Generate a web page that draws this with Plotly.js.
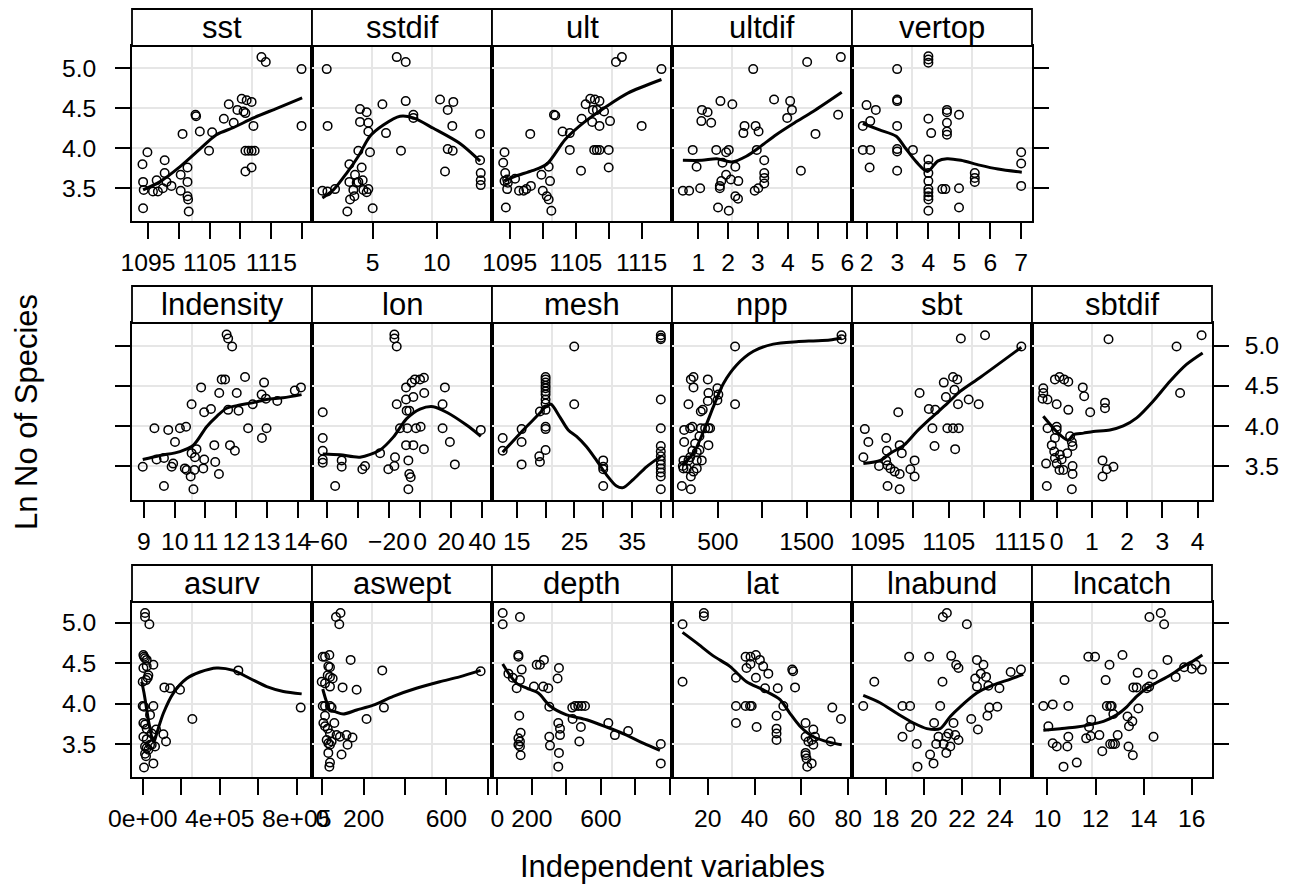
<!DOCTYPE html>
<html><head><meta charset="utf-8">
<script src="https://cdn.plot.ly/plotly-3.0.1.min.js"></script>
<style>html,body{margin:0;padding:0;background:#fff}#chart{width:1293px;height:890px}</style>
</head><body><div id="chart"></div>
<script>
// ---------------- data ----------------
const sst_x=[1094.1,1094.9,1094.2,1094.3,1094.2,1095.8,1096.6,1096.4,1097.4,1097.7,1097.7,1098.0,1098.8,1100.3,1100.3,1100.6,1101.4,1101.4,1101.4,1101.5,1101.6,1102.7,1102.8,1103.4,1104.9,1105.4,1107.3,1108.1,1108.9,1109.5,1110.2,1111.0,1111.8,1110.5,1110.8,1110.8,1111.3,1111.8,1112.3,1110.8,1111.8,1112.1,1113.4,1114.1,1119.9,1119.9];
const sst_y=[3.80,3.95,3.58,3.48,3.25,3.46,3.46,3.60,3.50,3.69,3.85,3.58,3.53,3.67,3.47,4.18,3.76,3.58,3.40,3.36,3.21,4.42,4.40,4.21,3.97,4.20,4.37,4.55,4.32,4.48,4.62,4.60,4.58,4.46,4.44,3.97,3.97,3.97,3.97,3.71,3.76,4.28,5.14,5.08,4.99,4.28];
const sst_fx=[1094.2,1096.9,1100.2,1103.4,1106.1,1108.9,1112.1,1115.9,1120.0];
const sst_fy=[3.48,3.58,3.77,3.99,4.17,4.26,4.38,4.50,4.63];

const sstdif_x=[1.41,1.48,1.07,1.46,2.06,3.02,3.18,3.18,3.23,3.49,3.57,3.62,3.75,3.88,4.01,4.01,4.14,4.22,4.27,4.53,4.66,4.66,4.79,4.53,4.66,3.88,5.0,5.76,6.04,6.88,7.58,7.58,7.21,8.18,8.18,10.26,10.86,11.30,11.22,10.86,11.25,10.65,13.39,13.39,13.44,13.44,13.44];
const sstdif_y=[4.99,4.28,3.47,3.46,3.49,3.21,3.80,3.58,3.36,3.48,3.40,3.67,3.57,3.58,4.49,4.33,3.76,3.60,3.48,4.45,4.32,4.21,3.95,3.45,3.49,3.97,3.25,4.55,4.19,5.14,5.08,4.59,3.97,4.42,4.38,4.61,4.48,4.58,4.28,3.99,3.97,3.71,4.18,3.85,3.69,3.60,3.54];
const sstdif_fx=[1.07,1.93,2.97,3.88,4.79,5.83,7.14,8.18,9.74,11.82,13.39];
const sstdif_fy=[3.38,3.48,3.69,3.90,4.15,4.29,4.40,4.38,4.25,4.06,3.84];

const ult_x=[1094.2,1094.0,1094.3,1094.2,1094.6,1094.7,1094.6,1095.8,1094.4,1096.4,1097.1,1097.5,1098.2,1098.1,1099.8,1100.0,1100.6,1100.9,1101.1,1100.9,1101.3,1101.7,1101.9,1103.0,1104.1,1104.1,1105.8,1105.9,1106.5,1107.2,1107.9,1108.6,1107.6,1108.2,1107.5,1107.8,1108.2,1108.6,1110.0,1108.6,1109.3,1110.0,1110.2,1111.1,1112.0,1115.0,1118.0];
const ult_y=[3.95,3.82,3.69,3.59,3.61,3.57,3.49,3.62,3.26,3.47,3.47,3.49,3.53,4.18,3.67,3.47,3.40,3.36,3.59,3.77,3.22,4.42,4.41,4.21,4.19,3.98,3.72,4.37,4.55,4.62,4.61,4.59,4.48,4.48,4.33,3.98,3.98,3.98,3.98,4.28,4.46,3.76,4.34,5.08,5.14,4.28,4.99];
const ult_fx=[1094.2,1095.8,1098.4,1100.6,1103.4,1106.2,1109.6,1112.9,1118.0];
const ult_fy=[3.59,3.65,3.72,3.80,4.11,4.32,4.52,4.69,4.86];

const ultdif_x=[0.48,0.69,1.06,0.81,0.94,1.12,1.31,1.10,1.43,1.74,2.14,1.60,1.72,1.72,1.77,1.66,1.93,2.02,1.81,1.93,2.09,2.24,2.34,2.24,2.33,2.02,2.55,2.51,2.84,2.92,3.02,2.96,2.89,3.01,3.21,3.21,3.21,3.21,3.54,4.08,4.14,3.98,4.44,4.65,4.93,5.69,5.78];
const ultdif_y=[3.47,3.47,3.50,3.98,3.77,4.48,4.45,4.34,4.32,4.59,4.55,3.98,3.53,3.50,3.59,3.26,3.95,3.98,3.82,3.67,3.61,3.77,3.59,3.40,3.37,3.22,4.28,4.19,4.99,4.28,4.21,3.98,3.47,3.50,3.85,3.69,3.63,3.56,4.61,4.59,4.48,4.38,3.72,5.08,4.18,4.42,5.14];
const ultdif_fx=[0.48,1.12,1.62,2.12,2.61,3.11,3.61,4.23,4.85,5.81];
const ultdif_fy=[3.85,3.85,3.87,3.83,3.90,4.03,4.17,4.32,4.46,4.70];

const vertop_x=[2.0,2.30,2.12,1.88,1.88,2.12,2.10,2.99,2.99,2.99,2.99,2.99,2.99,2.99,3.50,4.0,4.0,4.0,4.0,4.09,4.0,4.0,4.0,4.0,4.0,4.0,4.0,4.0,4.0,4.45,4.55,4.60,4.60,4.60,4.60,4.60,4.99,4.99,4.99,5.50,5.50,5.50,7.0,7.0,7.0];
const vertop_y=[4.54,4.48,4.34,4.28,3.98,3.98,3.76,4.99,4.61,4.59,4.28,3.99,3.96,3.72,3.98,5.15,5.11,5.07,4.37,4.19,3.86,3.78,3.69,3.59,3.49,3.45,3.40,3.36,3.22,3.49,3.49,4.48,4.45,4.32,4.21,4.17,4.42,3.50,3.26,3.69,3.63,3.58,3.95,3.81,3.53];
const vertop_fx=[1.88,2.42,2.96,3.26,3.61,3.97,4.30,4.60,5.05,5.65,6.25,7.02];
const vertop_fy=[4.31,4.23,4.15,4.00,3.83,3.71,3.84,3.87,3.85,3.79,3.74,3.70];

const lndensity_x=[8.96,9.34,9.41,9.65,9.65,9.79,9.90,9.95,10.01,10.17,10.37,10.33,10.39,10.52,10.61,10.55,10.55,10.66,10.71,10.64,10.86,10.93,10.96,10.96,11.18,11.29,11.32,11.44,11.45,11.53,11.64,11.69,11.74,11.87,11.74,11.80,11.96,12.02,12.08,12.29,12.39,12.54,12.83,12.84,12.91,12.97,12.99,13.34,13.91,14.11];
const lndensity_y=[3.49,3.97,3.58,3.60,3.25,3.95,3.49,3.53,3.80,3.97,3.99,3.47,3.45,3.37,3.21,4.27,3.66,3.61,3.71,3.45,4.48,3.47,3.58,4.17,4.21,3.76,3.55,3.40,4.41,4.58,4.58,5.14,5.09,4.99,4.20,3.76,3.69,4.41,4.19,4.61,3.97,4.27,4.39,3.85,4.54,4.34,3.97,4.31,4.44,4.48];
const lndensity_fx=[8.96,9.52,10.17,10.61,11.04,11.37,11.69,12.12,12.56,12.99,13.53,14.13];
const lndensity_fy=[3.58,3.63,3.68,3.76,3.99,4.12,4.22,4.26,4.29,4.33,4.35,4.39];

const lon_x=[-62.6,-62.6,-62.6,-62.6,-62.6,-54.6,-50.4,-50.4,-37.1,-35.4,-25.7,-20.4,-16.5,-16.1,-16.5,-16.5,-15.0,-15.0,-12.9,-9.0,-9.0,-8.6,-8.2,-7.5,-6.9,-7.5,-6.0,-9.0,-4.3,-5.4,-4.3,-3.3,-2.6,0.4,0.0,2.5,2.7,2.5,-6.9,14.5,14.5,16.0,19.2,22.4,39.1];
const lon_y=[4.17,3.85,3.69,3.58,3.54,3.25,3.57,3.49,3.46,3.50,3.66,3.46,3.50,3.61,5.14,5.09,4.99,4.27,3.97,4.48,4.33,4.19,3.97,3.57,3.40,3.21,3.36,3.76,3.76,4.54,4.36,4.58,3.97,3.99,4.58,4.60,4.41,3.71,4.19,4.27,3.97,4.48,3.80,3.52,3.95];
const lon_fx=[-62.6,-51.4,-38.6,-25.7,-17.2,-8.6,0.0,8.5,17.1,29.9,39.1];
const lon_fy=[3.65,3.64,3.61,3.70,3.86,4.09,4.21,4.24,4.17,4.01,3.87];

const mesh_x=[12.58,12.58,15.86,15.86,15.86,18.92,19.03,20.01,20.01,20.01,20.01,20.01,20.01,20.01,20.01,20.01,20.01,20.01,20.01,20.01,19.03,24.97,24.97,29.99,29.99,29.99,29.99,39.96,39.96,39.96,39.96,39.96,39.96,39.96,39.96,39.96,39.96,39.96,39.96,39.96,39.96];
const mesh_y=[3.85,3.69,3.96,3.80,3.52,3.62,3.55,4.61,4.58,4.54,4.50,4.47,4.43,4.39,4.33,4.28,4.20,3.99,3.96,3.70,4.18,4.99,4.27,3.57,3.49,3.46,3.25,5.13,5.10,5.08,4.33,3.97,3.75,3.68,3.62,3.57,3.52,3.47,3.42,3.37,3.21];
const mesh_fx=[12.58,16.15,19.03,20.01,20.94,22.49,23.93,25.37,27.10,28.83,30.56,32.29,33.44,35.17,37.48,39.96];
const mesh_fy=[3.67,3.95,4.16,4.24,4.27,4.11,3.95,3.87,3.74,3.57,3.39,3.25,3.23,3.33,3.49,3.62];

const npp_x=[96,114,114,122,122,170,197,227,227,189,215,170,197,197,227,245,264,264,264,294,294,309,331,309,320,358,388,395,388,395,395,414,496,507,496,152,107,189,215,695,695,1893,1893];
const npp_y=[3.25,3.47,3.57,3.80,3.95,4.27,4.58,4.61,4.48,3.97,3.99,3.57,3.21,3.37,3.43,3.78,3.67,3.57,3.47,3.70,3.87,4.18,4.20,3.97,3.57,3.97,4.58,4.41,4.31,3.97,3.76,3.97,4.47,4.39,4.32,3.47,3.50,3.61,3.69,4.99,4.27,5.13,5.08];
const npp_fx=[96,227,376,451,564,713,901,1125,1388,1575,1762,1893];
const npp_fy=[3.51,3.66,4.03,4.24,4.53,4.76,4.93,5.02,5.05,5.06,5.07,5.10];

const sbt_x=[1093.2,1093.7,1093.0,1095.2,1096.2,1096.3,1096.2,1096.4,1096.8,1097.4,1096.4,1097.9,1098.1,1098.1,1098.4,1098.1,1099.6,1100.2,1100.2,1100.9,1102.2,1103.1,1102.7,1103.0,1104.3,1104.6,1104.8,1105.6,1106.2,1105.8,1106.3,1105.6,1106.4,1105.9,1106.7,1107.8,1109.2,1110.1,1115.2];
const sbt_y=[3.96,3.80,3.61,3.50,3.85,3.69,3.57,3.51,3.47,3.43,3.25,4.17,3.76,3.40,3.66,3.21,3.46,3.57,3.37,4.41,4.21,4.20,3.97,3.75,4.54,4.36,3.97,4.61,4.58,4.45,4.27,3.97,3.97,3.71,5.09,4.33,4.27,5.13,4.99];
const sbt_fx=[1093.0,1095.4,1096.8,1098.7,1100.5,1102.4,1104.8,1106.6,1109.5,1115.2];
const sbt_fy=[3.53,3.57,3.66,3.76,3.93,4.09,4.28,4.43,4.61,4.98];

const sbtdif_x=[-0.38,-0.38,-0.40,-0.26,-0.26,-0.30,-0.28,-0.05,0.08,0.21,0.33,0,0,0,-0.05,-0.14,-0.07,-0.05,0,0.08,0.19,0.09,0.14,0.30,0.38,0.43,0.45,0.45,0.45,0.43,0.33,0.74,0.78,0.95,1.37,1.37,1.30,1.42,1.61,1.30,1.47,3.40,3.50,4.11];
const sbtdif_y=[4.47,4.41,4.34,4.33,3.97,3.53,3.25,4.58,4.61,4.58,4.55,4.27,3.99,3.95,3.85,3.76,3.68,3.60,3.53,3.45,3.45,3.64,3.58,3.66,3.87,3.80,3.75,3.50,3.40,3.21,4.20,4.48,4.37,4.17,4.29,4.22,3.57,3.46,3.49,3.37,5.08,4.99,4.41,5.13];
const sbtdif_fx=[-0.38,-0.09,0.09,0.33,0.47,0.76,1.04,1.51,1.89,2.27,2.74,3.22,3.69,4.14];
const sbtdif_fy=[4.12,3.97,3.89,3.82,3.89,3.91,3.93,3.95,4.00,4.10,4.31,4.56,4.77,4.91];

const asurv_x=[12100,12100,34600,3500,6900,12100,20800,3500,20800,55400,29400,26000,17300,0,0,6900,55400,38100,3500,12100,20800,3500,20800,12100,20800,29400,38100,46800,64100,12100,17300,6900,55400,46800,69300,107400,121200,112600,142000,193900,258000,497000,820800];
const asurv_y=[5.12,5.07,4.98,4.60,4.58,4.56,4.54,4.44,4.46,4.48,4.35,4.32,4.29,4.27,3.97,3.96,3.97,3.86,3.76,3.74,3.69,3.59,3.56,3.47,3.45,3.43,3.49,3.49,3.47,3.38,3.35,3.21,3.26,3.63,3.68,3.62,3.53,4.20,4.19,4.17,3.81,4.41,3.95];
const asurv_fx=[-5200,6900,29400,46800,58900,72700,107400,159300,228600,297800,384400,471000,557600,644200,730700,825900];
const asurv_fy=[4.27,4.13,3.80,3.59,3.53,3.63,3.88,4.13,4.31,4.39,4.44,4.41,4.31,4.21,4.15,4.12];

const aswept_x=[66,88,82,2,13,34,29,37,37,26,50,-3,13,37,98,137,166,290,2,13,37,45,13,5,13,26,58,37,21,29,37,45,69,85,117,146,122,93,29,37,34,214,298,766];
const aswept_y=[5.07,5.12,4.98,4.58,4.58,4.60,4.46,4.45,4.33,4.35,4.31,4.27,4.25,4.21,4.20,4.54,4.17,4.41,3.97,3.97,3.97,3.95,3.85,3.76,3.72,3.69,3.76,3.63,3.55,3.51,3.49,3.53,3.61,3.59,3.61,3.58,3.49,3.37,3.39,3.27,3.22,3.81,3.95,4.40];
const aswept_fx=[2,18,37,61,101,166,246,343,455,568,664,766];
const aswept_fy=[4.18,4.04,3.92,3.90,3.87,3.92,3.98,4.09,4.19,4.27,4.33,4.41];

const depth_x=[31,31,131,64,89,112,122,122,141,131,127,122,131,122,135,131,135,212,228,247,270,266,295,301,301,305,357,349,353,363,363,357,353,434,450,469,488,508,436,484,475,643,681,758,947,947];
const depth_y=[5.12,4.98,5.07,4.37,4.32,4.19,4.60,4.58,4.42,4.29,3.85,3.57,3.53,3.49,3.64,3.47,3.36,4.21,4.48,4.48,4.54,4.21,4.19,3.96,3.59,3.48,4.44,4.31,3.76,3.69,3.61,3.39,3.22,3.95,3.97,3.97,3.97,3.97,3.81,3.71,3.53,3.76,3.61,3.66,3.50,3.26];
const depth_fx=[31,73,112,170,237,305,401,517,633,749,845,942];
const depth_fy=[4.49,4.35,4.25,4.19,4.13,3.97,3.86,3.80,3.71,3.61,3.51,3.42];

const lat_x=[9.3,9.3,18.4,18.4,32.1,32.1,32.1,36.2,38.3,40.6,42.3,43.7,36.6,38.3,40.6,36.2,38.1,38.8,40.9,44.5,45.9,49.9,49.4,49.4,49.4,49.4,52.3,56.1,56.5,57.3,61.8,61.8,63.0,64.4,65.1,65.8,65.1,61.8,61.8,62.2,62.5,64.4,72.5,73.2,76.9];
const lat_y=[4.98,4.27,5.12,5.08,4.32,3.97,3.76,4.58,4.58,4.60,4.54,4.46,4.44,4.49,4.32,3.97,3.97,3.97,3.71,4.19,4.37,4.19,3.85,3.69,3.63,3.55,3.97,4.42,4.40,4.20,3.76,3.59,3.53,3.55,3.68,3.59,3.49,3.39,3.36,3.32,3.22,3.26,3.53,3.95,3.81];
const lat_fx=[9.3,15.3,22.4,29.5,36.6,43.7,50.9,55.1,59.4,65.1,72.2,77.2];
const lat_fy=[4.88,4.75,4.59,4.46,4.27,4.17,4.05,3.88,3.72,3.59,3.52,3.49];

const lnabund_x=[16.82,17.40,18.88,19.28,19.28,18.88,19.23,19.63,19.67,20.28,20.33,20.51,20.54,20.65,20.77,20.86,20.98,21.00,21.21,21.04,21.18,21.18,21.30,21.39,21.44,21.56,21.65,21.82,21.70,21.82,22.26,22.70,22.79,22.79,22.49,22.84,23.13,22.99,23.27,23.39,23.97,23.44,23.86,23.34,24.56,25.10];
const lnabund_y=[3.97,4.27,3.97,3.97,3.71,3.59,4.58,3.50,3.22,4.58,3.37,3.26,3.76,3.50,3.59,3.97,4.27,5.07,5.12,3.50,3.59,3.39,3.63,3.47,4.59,3.76,3.61,3.55,4.48,4.44,4.98,4.31,4.54,4.21,3.81,3.68,4.48,4.37,4.33,4.22,4.19,3.95,3.96,3.85,4.39,4.42];
const lnabund_fx=[16.82,17.70,18.58,19.46,20.16,20.86,21.39,21.91,22.78,23.65,24.52,25.22];
const lnabund_fy=[4.10,4.01,3.88,3.76,3.69,3.69,3.84,3.96,4.13,4.23,4.30,4.36];

const lncatch_x=[9.83,10.22,10.04,10.22,10.39,10.67,10.71,10.83,10.87,10.87,11.22,11.61,11.70,11.73,11.80,11.82,11.98,12.16,12.28,12.42,12.47,12.61,12.67,12.58,12.61,12.72,12.81,12.74,12.92,13.12,13.33,13.39,13.53,13.37,13.55,13.57,13.71,13.75,13.78,14.13,14.23,14.24,14.38,14.41,14.71,14.85,14.99,15.33,15.68,16.00,16.17,16.42];
const lncatch_y=[3.97,3.99,3.72,3.51,3.47,3.22,4.29,3.47,3.59,3.97,3.27,3.57,4.58,3.71,3.60,3.80,4.58,3.61,3.41,4.29,3.97,3.97,3.97,4.48,3.50,3.50,3.50,3.87,3.61,4.60,3.84,3.72,3.78,3.47,3.36,4.20,4.20,4.38,3.94,4.19,4.21,5.07,4.36,3.59,5.12,4.98,4.54,4.33,4.45,4.43,4.48,4.42];
const lncatch_fx=[9.83,10.53,11.22,11.77,12.33,12.88,13.30,13.71,14.13,14.54,15.10,15.65,16.07,16.44];
const lncatch_fy=[3.67,3.69,3.71,3.74,3.78,3.86,3.96,4.09,4.19,4.26,4.35,4.46,4.53,4.60];

// panel names and axis ticks
const panelNames=['sst','sstdif','ult','ultdif','vertop','lndensity','lon','mesh','npp','sbt','sbtdif','asurv','aswept','depth','lat','lnabund','lncatch'];
const stripLabels=['sst','sstdif','ult','ultdif','vertop','lndensity','lon','mesh','npp','sbt','sbtdif','asurv','aswept','depth','lat','lnabund','lncatch'];
const xTickVals=[[1095,1100,1105,1110,1115,1120],[5,10],[1095,1100,1105,1110,1115],[1,2,3,4,5,6],[2,3,4,5,6,7],
  [9,10,11,12,13,14],[-60,-40,-20,0,20,40],[15,20,25,30,35,40],[0,500,1000,1500,2000],[1095,1100,1105,1110,1115],[0,1,2,3,4],
  [0,200000,400000,600000,800000],[0,200,400,600,800],[0,200,400,600,800,1000],[20,40,60,80],[18,20,22,24],[10,12,14,16]];
const xTickText=[['1095','','1105','','1115',''],['5','10'],['1095','','1105','','1115'],['1','2','3','4','5','6'],['2','3','4','5','6','7'],
  ['9','10','11','12','13','14'],['\u221260','','\u221220','0','20','40'],['15','','25','','35',''],['','500','','1500',''],['1095','','1105','','1115'],['0','1','2','3','4'],
  ['0e+00','','4e+05','','8e+05'],['0','200','','600',''],['0','200','','600','',''],['20','40','60','80'],['18','20','22','24'],['10','12','14','16']];
const yTickVals=[3.5,4.0,4.5,5.0];
const yTickText=['3.5','4.0','4.5','5.0'];
const xTitle='Independent variables';
const yTitle='Ln No of Species';

const ptsX=[sst_x,sstdif_x,ult_x,ultdif_x,vertop_x,lndensity_x,lon_x,mesh_x,npp_x,sbt_x,sbtdif_x,asurv_x,aswept_x,depth_x,lat_x,lnabund_x,lncatch_x];
const ptsY=[sst_y,sstdif_y,ult_y,ultdif_y,vertop_y,lndensity_y,lon_y,mesh_y,npp_y,sbt_y,sbtdif_y,asurv_y,aswept_y,depth_y,lat_y,lnabund_y,lncatch_y];
const fitX=[sst_fx,sstdif_fx,ult_fx,ultdif_fx,vertop_fx,lndensity_fx,lon_fx,mesh_fx,npp_fx,sbt_fx,sbtdif_fx,asurv_fx,aswept_fx,depth_fx,lat_fx,lnabund_fx,lncatch_fx];
const fitY=[sst_fy,sstdif_fy,ult_fy,ultdif_fy,vertop_fy,lndensity_fy,lon_fy,mesh_fy,npp_fy,sbt_fy,sbtdif_fy,asurv_fy,aswept_fy,depth_fy,lat_fy,lnabund_fy,lncatch_fy];

// ---------------- layout geometry ----------------
const W=1293,H=890;
const FONT='"Liberation Sans", Arial, Helvetica, sans-serif';
const colEdges=[132,312,492,672,852,1032,1212];
const rowBox=[[46,221],[323,500],[602,777]];
const stripH=37;
const panelRow=[0,0,0,0,0,1,1,1,1,1,1,2,2,2,2,2,2];
const panelCol=[0,1,2,3,4,0,1,2,3,4,5,0,1,2,3,4,5];
const lastCol=[4,5,5];
const xRanges=[[1092.4,1121.6],[0.26,14.32],[1092.3,1119.6],[0.115,6.155],[1.53,7.35],
  [8.61,14.47],[-69.5,46.3],[10.73,41.9],[-15,2011],[1091.4,1116.7],[-0.70,4.405],
  [-55600,879500],[-50,821],[-31,1012],[4.8,81.6],[16.23,25.68],[9.36,16.84]];
const yRanges=[[3.091,5.279],[3.076,5.283],[3.092,5.256]];

const traces=[];
const layout={width:W,height:H,margin:{l:0,r:0,t:0,b:0},paper_bgcolor:'#fff',plot_bgcolor:'#fff',
  showlegend:false,font:{family:FONT,color:'#000'},shapes:[],annotations:[]};

panelNames.forEach((nm,i)=>{
  const k=i+1, sfx=(k===1?'':String(k));
  const r=panelRow[i], c=panelCol[i];
  const top=rowBox[r][0], bot=rowBox[r][1], ph=bot-top;
  const xd=[colEdges[c]/W, colEdges[c+1]/W];
  const yd=[1-bot/H, 1-top/H];
  layout['xaxis'+sfx]={domain:xd,anchor:'y'+sfx,range:xRanges[i],tickmode:'array',tickvals:xTickVals[i],ticktext:xTickText[i],
    ticks:'outside',ticklen:16,tickwidth:2,tickcolor:'#000',showline:true,mirror:true,linecolor:'#000',linewidth:1.8,
    showgrid:false,zeroline:false,tickangle:0,tickfont:{family:FONT,size:24.7,color:'#000'},ticklabelstandoff:3,fixedrange:true};
  const isFirst=(c===0), isLast=(c===lastCol[r]);
  const ya={domain:yd,anchor:'x'+sfx,range:yRanges[r],tickmode:'array',tickvals:yTickVals,ticktext:yTickText,
    showgrid:true,gridcolor:'#e6e6e6',gridwidth:2,zeroline:false,showline:true,mirror:true,linecolor:'#000',linewidth:1.8,
    tickfont:{family:FONT,size:24.7,color:'#000'},fixedrange:true,ticks:'',showticklabels:false};
  if(isFirst){ya.side='left';ya.ticks='outside';ya.ticklen=15;ya.tickwidth=2;ya.tickcolor='#000';ya.showticklabels=(r!==1);ya.ticklabelstandoff=14;}
  if(isLast){ya.side='right';ya.ticks='outside';ya.ticklen=15;ya.tickwidth=2;ya.tickcolor='#000';ya.showticklabels=(r===1);ya.ticklabelstandoff=11;}
  layout['yaxis'+sfx]=ya;
  // vertical reference lines at thirds of the panel
  [1/3,2/3].forEach(f=>layout.shapes.push({type:'line',xref:'x'+sfx+' domain',yref:'y'+sfx+' domain',x0:f,x1:f,y0:0,y1:1,
    line:{color:'#e6e6e6',width:2},layer:'below'}));
  // strip
  layout.shapes.push({type:'rect',xref:'x'+sfx+' domain',yref:'y'+sfx+' domain',x0:0,x1:1,y0:1,y1:1+stripH/ph,
    fillcolor:'#fff',line:{color:'#000',width:1.8},layer:'above'});
  layout.annotations.push({xref:'x'+sfx+' domain',yref:'y'+sfx+' domain',x:0.5,y:1+(stripH/2)/ph,text:stripLabels[i],
    showarrow:false,xanchor:'center',yanchor:'middle',font:{family:FONT,size:31,color:'#000'}});
  traces.push({type:'scatter',mode:'markers',x:ptsX[i],y:ptsY[i],xaxis:'x'+sfx,yaxis:'y'+sfx,
    marker:{symbol:'circle-open',size:8.5,color:'#000',line:{width:1.5,color:'#000'}},hoverinfo:'skip'});
  traces.push({type:'scatter',mode:'lines',x:fitX[i],y:fitY[i],xaxis:'x'+sfx,yaxis:'y'+sfx,
    line:{color:'#000',width:3,shape:'spline',smoothing:0.8},hoverinfo:'skip'});
});

layout.annotations.push({xref:'paper',yref:'paper',x:672/W,y:1-866/H,text:xTitle,showarrow:false,xanchor:'center',yanchor:'middle',
  font:{family:FONT,size:31,color:'#000'}});
layout.annotations.push({xref:'paper',yref:'paper',x:26/W,y:1-412/H,text:yTitle,showarrow:false,textangle:-90,xanchor:'center',yanchor:'middle',
  font:{family:FONT,size:31,color:'#000'}});

Plotly.newPlot('chart',traces,layout,{staticPlot:true,displayModeBar:false});
</script></body></html>
